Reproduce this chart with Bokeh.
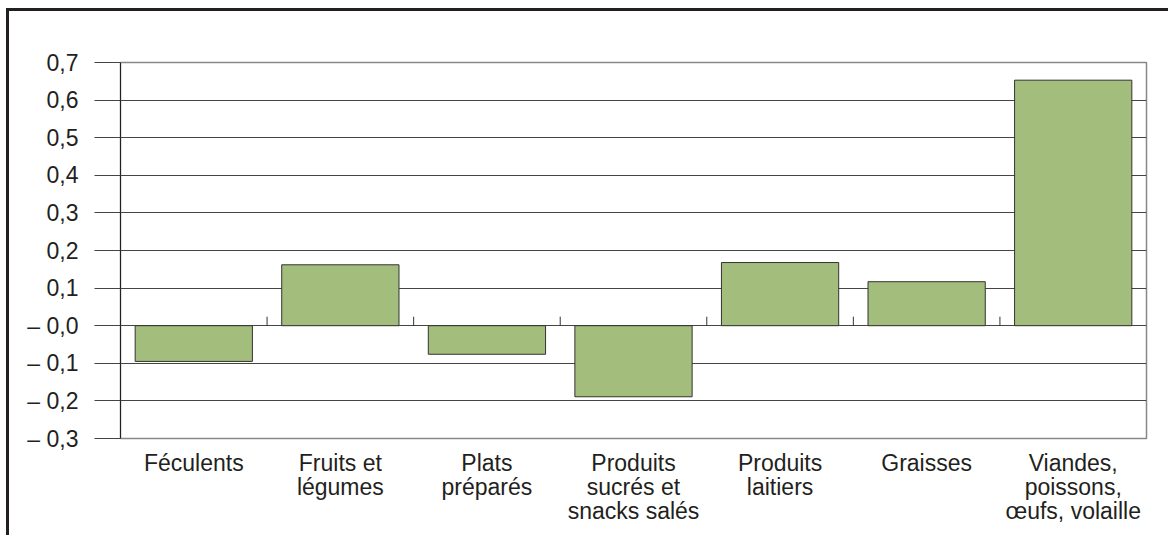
from bokeh.plotting import figure
from bokeh.models import FixedTicker, CustomJSTickFormatter, Range1d, ColumnDataSource
from bokeh.embed import file_html
from bokeh.resources import INLINE

categories = ["Féculents", "Fruits et\nlégumes", "Plats\npréparés",
              "Produits\nsucrés et\nsnacks salés", "Produits\nlaitiers",
              "Graisses", "Viandes,\npoissons,\nœufs, volaille"]
values = [-0.095, 0.162, -0.076, -0.189, 0.168, 0.117, 0.653]
y_ticks = [-0.3, -0.2, -0.1, 0.0, 0.1, 0.2, 0.3, 0.4, 0.5, 0.6, 0.7]

FONT = "Liberation Sans"
n = len(categories)
xs = list(range(n))

p = figure(width=1162, height=527, output_backend="svg", toolbar_location=None,
           x_range=Range1d(-0.5, n - 0.5), y_range=Range1d(y_ticks[0], y_ticks[-1]),
           min_border_left=111, min_border_top=51, min_border_right=25, min_border_bottom=100)
p.styles = {"border-top": "3px solid #231f20", "border-left": "3px solid #231f20",
            "margin-left": "6px", "margin-top": "8px"}

src = ColumnDataSource(dict(x=xs, top=values))
p.vbar(x="x", top="top", bottom=0, width=0.8, source=src,
       fill_color="#a3be7c", line_color="#333333", line_width=1)

# small separator ticks on the zero line between categories
bx = [i + 0.5 for i in range(n - 1)]
p.segment(x0=bx, x1=bx, y0=[0] * len(bx), y1=[0.024] * len(bx),
          line_color="#333333", line_width=1)

p.xgrid.grid_line_color = None
p.ygrid.grid_line_color = "#444444"
p.ygrid.grid_line_width = 1
p.ygrid.ticker = FixedTicker(ticks=y_ticks)

p.yaxis.ticker = FixedTicker(ticks=y_ticks)
p.yaxis.formatter = CustomJSTickFormatter(code="""
const a = Math.abs(tick).toFixed(1).replace('.', ',');
return (tick < 0.05 && tick > -0.05) || tick < 0 ? '\u2013 ' + a : a;
""")
p.yaxis.axis_line_color = "#231f20"
p.yaxis.major_tick_out = 26
p.yaxis.major_tick_in = 0
p.yaxis.major_tick_line_color = "#444444"
p.yaxis.minor_tick_line_color = None
p.yaxis.major_label_standoff = 16
p.yaxis.major_label_text_font = FONT
p.yaxis.major_label_text_font_size = "23px"
p.yaxis.major_label_text_color = "#231f20"

p.xaxis.ticker = FixedTicker(ticks=xs)
p.xaxis.formatter = CustomJSTickFormatter(args=dict(labels=categories),
                                          code="return labels[Math.round(tick)];")
p.xaxis.axis_line_color = None
p.xaxis.major_tick_line_color = None
p.xaxis.minor_tick_line_color = None
p.xaxis.major_tick_out = 0
p.xaxis.major_tick_in = 0
p.xaxis.major_label_standoff = 11
p.xaxis.major_label_text_font = FONT
p.xaxis.major_label_text_font_size = "23px"
p.xaxis.major_label_text_color = "#231f20"
p.xaxis.major_label_text_line_height = 0.94

p.outline_line_color = "#888888"
p.outline_line_width = 1.5
p.background_fill_color = "white"
p.border_fill_color = "white"

open("out.html", "w").write(file_html(p, INLINE))
